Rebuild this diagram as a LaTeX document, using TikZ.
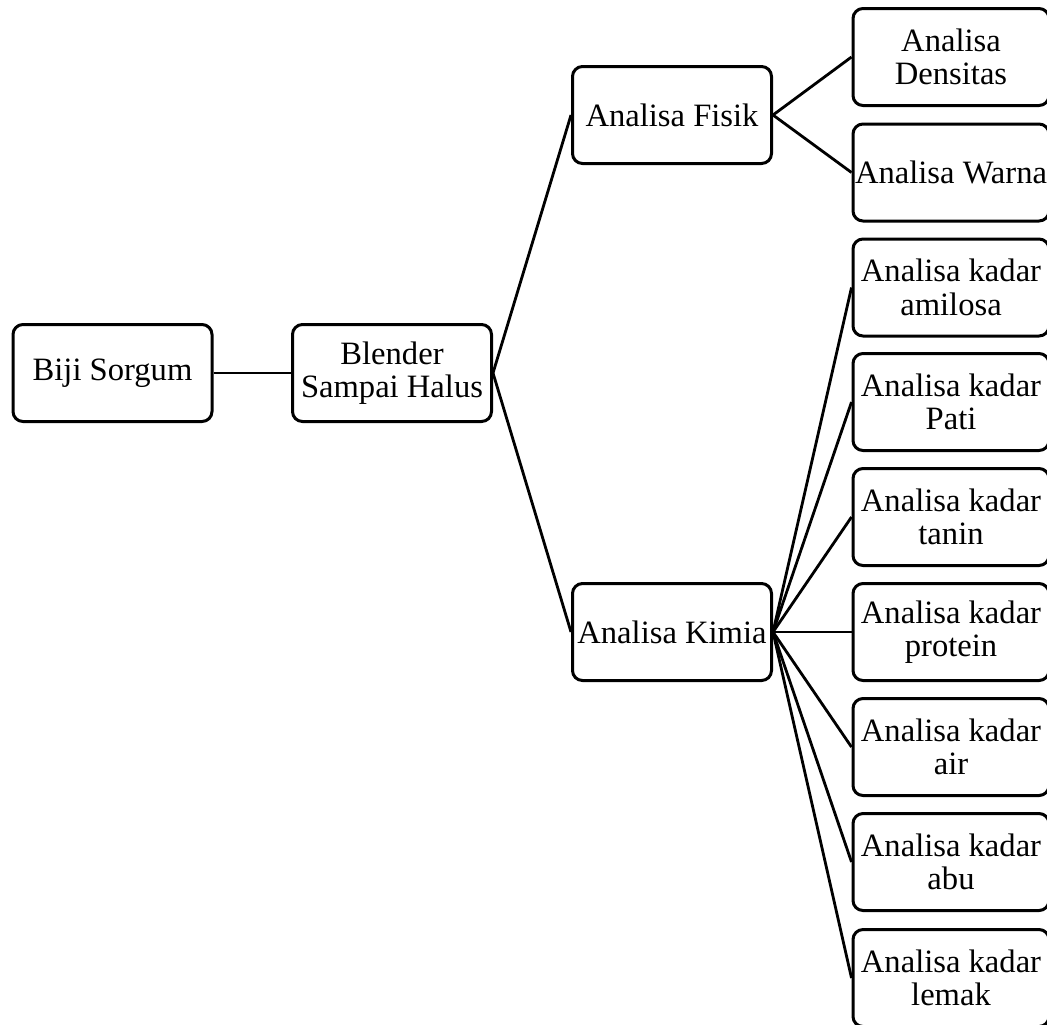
\documentclass[tikz,border=0pt]{standalone}
\usepackage{fontspec}
\setmainfont{Liberation Serif}
\begin{document}
\begin{tikzpicture}[x=0.5pt,y=-0.5pt,
  box/.style={draw, line width=1.5pt, rounded corners=5pt, align=center, inner sep=0pt,
    minimum height=48.5pt, font=\fontsize{16.3}{16.8}\selectfont},
  lbox/.style={box, minimum width=99.5pt},
  rbox/.style={box, minimum width=98pt},
  conn/.style={line width=1.4pt}]
\useasboundingbox (0,0) rectangle (1047,1024);
\node[lbox] (biji) at (112.5,373) {Biji Sorgum};
\node[lbox] (blender) at (392,373) {Blender\\Sampai Halus};
\node[lbox] (fisik) at (672,115) {Analisa Fisik};
\node[lbox] (kimia) at (672,632) {Analisa Kimia};
\node[rbox] (densitas) at (951,57) {Analisa\\Densitas};
\node[rbox] (warna) at (951,172.5) {Analisa Warna};
\node[rbox] (amilosa) at (951,287.5) {Analisa kadar\\amilosa};
\node[rbox] (pati) at (951,402) {Analisa kadar\\Pati};
\node[rbox] (tanin) at (951,517) {Analisa kadar\\tanin};
\node[rbox] (protein) at (951,632) {Analisa kadar\\protein};
\node[rbox] (air) at (951,747) {Analisa kadar\\air};
\node[rbox] (abu) at (951,862) {Analisa kadar\\abu};
\node[rbox] (lemak) at (951,978) {Analisa kadar\\lemak};
\draw[conn] (biji.east) -- (blender.west);
\draw[conn] (blender.east) -- (fisik.west);
\draw[conn] (blender.east) -- (kimia.west);
\draw[conn] (fisik.east) -- (densitas.west);
\draw[conn] (fisik.east) -- (warna.west);
\foreach \n in {amilosa,pati,tanin,protein,air,abu,lemak}
  \draw[conn] (kimia.east) -- (\n.west);
\end{tikzpicture}
\end{document}
